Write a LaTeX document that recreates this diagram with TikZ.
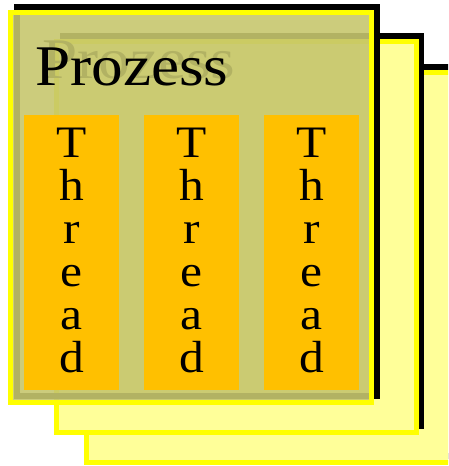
\documentclass[tikz,border=0pt]{standalone}
\usepackage{fontspec}
\setmainfont{Liberation Serif}
\newfontfamily\widefont[FakeStretch=1.1]{Liberation Serif}
\definecolor{boxyellow}{RGB}{255,255,0}
\definecolor{boxfill}{RGB}{255,255,153}
\definecolor{frontfill}{RGB}{198,198,110}
\definecolor{threadorange}{RGB}{255,192,0}
\begin{document}
\begin{tikzpicture}[x=1pt,y=-1pt,
  shadowframe/.style={draw=black,line width=6pt},
  mainframe/.style={draw=boxyellow,line width=5pt,fill=boxfill},
  frontframe/.style={draw=boxyellow,line width=5pt,fill=frontfill,fill opacity=0.9},
  threadbox/.style={fill=threadorange,minimum width=95pt,minimum height=275pt,inner sep=0pt,anchor=north west},
  threadtext/.style={align=center,font=\widefont\fontsize{45}{43}\selectfont,inner sep=0pt},
  titletext/.style={font=\widefont\fontsize{57.5}{60}\selectfont,anchor=base west,inner sep=0pt}]
\useasboundingbox (0,0) rectangle (448,466);
\clip (0,0) rectangle (448,466);
% back frame
\draw[shadowframe] (93,67) rectangle (459,456);
\draw[mainframe] (86.5,72.5) rectangle (452.5,462.5);
% middle frame
\draw[shadowframe] (63,36) rectangle (421,426);
\draw[mainframe] (56.5,41.5) rectangle (416.5,432.5);
% front frame
\draw[shadowframe] (17,7) rectangle (377,396);
\node[titletext] (ghost) at (42,78) {Prozess};
\draw[frontframe] (10.5,12.5) rectangle (371.5,402.5);
\node[titletext] (proc) at (35,85) {Prozess};
\node[threadbox] (th1) at (24,115) {};
\node[threadbox] (th2) at (144,115) {};
\node[threadbox] (th3) at (264,115) {};
\node[threadtext,yshift=2pt] (tt1) at (th1.center) {T\\h\\r\\e\\a\\d};
\node[threadtext,yshift=2pt] (tt2) at (th2.center) {T\\h\\r\\e\\a\\d};
\node[threadtext,yshift=2pt] (tt3) at (th3.center) {T\\h\\r\\e\\a\\d};
\end{tikzpicture}
\end{document}
